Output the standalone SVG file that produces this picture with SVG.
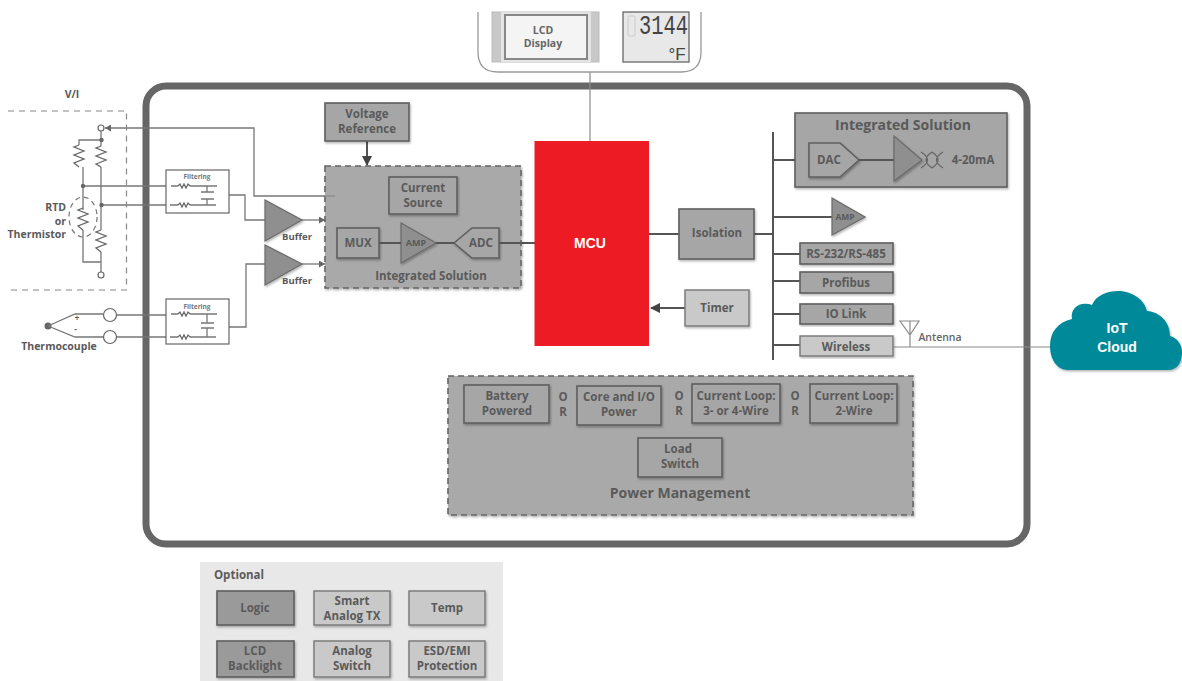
<svg xmlns="http://www.w3.org/2000/svg" width="1182" height="681" viewBox="0 0 1182 681">
<style>
text{font-family:"Open Sans","Noto Sans","Liberation Sans",sans-serif;font-weight:700;fill:#5a5a5a;font-size:11.5px;text-anchor:middle}
.box{fill:#a6a6a6;stroke:#5f5f5f;stroke-width:1.6;filter:url(#sh)}
.lt{fill:#c9c9c9;stroke:#777;stroke-width:1.4;filter:url(#sh)}
.dk{fill:#9a9a9a;stroke:#5f5f5f;stroke-width:1.6;filter:url(#sh)}
.dash{fill:#a9a9a9;stroke:#666;stroke-width:1.6;stroke-dasharray:6 4;filter:url(#sh)}
.tri{fill:#8f8f8f;stroke:#6a6a6a;stroke-width:1.2;filter:url(#sh)}
.w{fill:#fff;stroke:#666;stroke-width:1.2}
.l{fill:none;stroke:#777;stroke-width:1.3}
.t{fill:none;stroke:#555;stroke-width:2}
.thin{fill:none;stroke:#8a8a8a;stroke-width:1.2}
.res{fill:none;stroke:#666;stroke-width:1.3}
.dot{fill:#666}
.sm{font-size:10.5px}
.fl{font-size:6.5px;fill:#777}
</style>
<defs>
<filter id="sh" x="-10%" y="-10%" width="125%" height="125%"><feDropShadow dx="1" dy="1.5" stdDeviation="1.2" flood-color="#000" flood-opacity=".3"/></filter>
<marker id="ah" markerUnits="userSpaceOnUse" markerWidth="6" markerHeight="7" refX="6" refY="3.5" orient="auto"><path d="M0 0L6 3.5L0 7Z" fill="#666"/></marker>
<marker id="ahd" markerWidth="5" markerHeight="5" refX="4.5" refY="2.500" orient="auto"><path d="M0 0L5 2.500L0 5Z" fill="#444"/></marker>
</defs>

<g id="frame"><rect x="146" y="86" width="881" height="458" rx="20" fill="#fff" stroke="#666" stroke-width="7"/></g>

<g id="connectors">
<path class="thin" d="M590 72V141"/>
<path class="l" d="M335 196H254V128H105" marker-end="url(#ah)"/>
<path class="l" d="M83 186H166M101 205H166M116 315H166M116 337H166"/>
<path class="l" d="M229 195H245V220H265M229 327H246V264H265"/>
<path class="l" d="M302 220H325" marker-end="url(#ah)"/>
<path class="l" d="M302 264H325" marker-end="url(#ah)"/>
<path class="t" d="M367 141V165" marker-end="url(#ahd)"/>
<path class="t" d="M499 243H535M649 234H679M754 234H773"/>
<path class="t" d="M685 308H651" marker-end="url(#ahd)"/>
<path class="t" d="M773 132V360"/>
<path class="t" d="M773 160H809M773 217H832M773 254H800M773 281H800M773 314H800M773 345H800"/>
<path class="thin" d="M893 347H1050"/>
</g>

<g id="vi-sensor">
<text x="72" y="98" class="sm">V/I</text>
<path d="M8 111H126.500V290H8" fill="none" stroke="#888" stroke-width="1.200" stroke-dasharray="6 5"/>
<path class="l" d="M79 145V140H101M83 167V210M83 230V262H101M101 131V146M101 167V230M101 252V272"/>
<path class="res" d="M79 145l-5 2 10 4-10 4 10 4-10 4 5 4"/>
<path class="res" d="M101 146l-5 2 10 4-10 4 10 4-10 4 5 3"/>
<path class="res" d="M83 208l-5 2 10 4-10 4 10 4-10 4 5 4"/>
<path class="res" d="M101 230l-5 2 10 4-10 4 10 4-10 4 5 4"/>
<ellipse cx="83" cy="217" rx="14" ry="20" fill="none" stroke="#777" stroke-width="1.200" stroke-dasharray="5 4"/>
<circle class="w" cx="101" cy="128" r="3"/><circle class="w" cx="101" cy="275" r="3"/>
<circle class="dot" cx="101.500" cy="140" r="2.200"/><circle class="dot" cx="83" cy="186" r="2.200"/><circle class="dot" cx="101.500" cy="205" r="2.200"/>
<text x="66" y="211" class="sm" style="text-anchor:end">RTD</text>
<text x="66" y="225" class="sm" style="text-anchor:end">or</text>
<text x="66" y="238" class="sm" style="text-anchor:end">Thermistor</text>
</g>

<g id="thermocouple">
<circle class="dot" cx="48" cy="326" r="3.500"/>
<path class="l" d="M48 326L75 314H103M48 326L75 337H103"/>
<circle class="w" cx="110" cy="315" r="6.500"/><circle class="w" cx="110" cy="337" r="6.500"/>
<text x="77" y="321" style="font-size:8px">+</text><text x="75.500" y="332" style="font-size:8px">-</text>
<text x="59" y="350" class="sm">Thermocouple</text>
</g>

<g id="filter-1">
<rect class="w" x="166" y="170" width="63" height="43"/>
<text x="197" y="179" class="fl">Filtering</text>
<path class="l" d="M171 186H178M190 186H217M170 205H178M190 205H216M207 186V192M207 199V205M201 192H214M201 199H214"/>
<path class="res" d="M178 186l2-2 2 4 2-4 2 4 2-4 2 2M178 205l2-2 2 4 2-4 2 4 2-4 2 2"/>
</g>
<g id="filter-2">
<rect class="w" x="166" y="299" width="63" height="45"/>
<text x="197" y="309" class="fl">Filtering</text>
<path class="l" d="M171 314H178M190 314H217M170 337H178M190 337H216M207 314V323M207 328V337M201 323H214M201 328H214"/>
<path class="res" d="M178 314l2-2 2 4 2-4 2 4 2-4 2 2M178 337l2-2 2 4 2-4 2 4 2-4 2 2"/>
</g>

<g id="buffer-1"><polygon class="tri" points="265,200 265,241 302,220"/><text x="297" y="240" style="font-size:9.500px">Buffer</text></g>
<g id="buffer-2"><polygon class="tri" points="265,245 265,285 302,264"/><text x="297" y="284" style="font-size:9.500px">Buffer</text></g>

<g id="voltage-reference"><rect class="box" x="325" y="103" width="84" height="38"/><text x="367" y="118">Voltage</text><text x="367" y="133">Reference</text></g>

<g id="integrated-left">
<rect class="dash" x="325" y="166" width="196" height="122"/>
<path class="thin" d="M325 196H335"/>
<rect class="box" x="389" y="177" width="68" height="37"/><text x="423" y="192">Current</text><text x="423" y="207">Source</text>
<rect class="box" x="337" y="228" width="42" height="30"/><text x="358" y="247">MUX</text>
<polygon class="tri" points="401,223 401,263 436,243"/><text x="416" y="246" style="font-size:9px">AMP</text>
<polygon class="box" points="454,243 472,228 499,228 499,258 472,258"/><text x="481" y="247">ADC</text>
<path class="t" d="M379 243H401M436 243H454M499 243H521"/>
<text x="431" y="280">Integrated Solution</text>
</g>

<g id="mcu"><rect x="534.500" y="141" width="114.500" height="205" fill="#ed1c24"/><text x="590" y="248" style="fill:#fff;font-size:14px;font-family:'Liberation Sans',sans-serif">MCU</text></g>
<g id="isolation"><rect class="box" x="679" y="209" width="75" height="50"/><text x="717" y="237">Isolation</text></g>
<g id="timer"><rect class="lt" x="685" y="290" width="64" height="36"/><text x="717" y="312">Timer</text></g>

<g id="integrated-right">
<rect class="box" x="795" y="113" width="212" height="74"/>
<text x="903" y="130" style="font-size:14px">Integrated Solution</text>
<polygon class="box" points="809,143 840,143 859,160 840,177 809,177"/><text x="829" y="164">DAC</text>
<path class="t" d="M859 160H894"/>
<polygon class="tri" points="894,136 894,181 922,160"/>
<path d="M921 152Q934 160 921 168M932 152Q920 160 932 168M932 152Q944 160 932 168M943 152Q930 160 943 168" fill="none" stroke="#666" stroke-width="1.200"/>
<text x="973" y="164">4-20mA</text>
</g>
<g id="amp"><polygon class="tri" points="832,198 832,235 865,217"/><text x="845" y="220" style="font-size:8.500px">AMP</text></g>
<g id="rs232"><rect class="box" x="800" y="243" width="93" height="21"/><text x="846" y="258">RS-232/RS-485</text></g>
<g id="profibus"><rect class="box" x="800" y="272" width="93" height="21"/><text x="846" y="287">Profibus</text></g>
<g id="io-link"><rect class="box" x="800" y="304" width="93" height="20"/><text x="846" y="318">IO Link</text></g>
<g id="wireless"><rect class="lt" x="800" y="336" width="93" height="20"/><text x="846" y="351">Wireless</text></g>
<g id="antenna"><path class="thin" d="M900 321H919L910 335ZM910 321V347"/><text x="940" y="341" class="sm" style="font-weight:600;fill:#666">Antenna</text></g>
<g id="iot-cloud"><path d="M1068 370C1056 370 1050 358 1050 346C1050 332 1058 322 1072 319C1070 308 1080 301 1092 305C1096 295 1108 291 1118 291C1130 291 1144 298 1147 311C1160 312 1170 322 1170 336C1178 338 1182 346 1182 352C1182 362 1178 370 1168 370Z" fill="#008a99" filter="url(#sh)"/><text x="1117" y="333" style="fill:#fff;font-size:14px;font-family:'Liberation Sans',sans-serif">IoT</text><text x="1117" y="352" style="fill:#fff;font-size:14px;font-family:'Liberation Sans',sans-serif">Cloud</text></g>

<g id="lcd">
<path d="M478 12V52Q478 72 498 72H681Q701 72 701 52V12" fill="#fff" stroke="#999" stroke-width="1.300"/>
<rect x="492" y="12" width="107" height="50" fill="#c8c8c8" stroke="#bbb"/>
<rect x="501" y="12" width="90" height="50" fill="#e4e4e4"/>
<rect x="505" y="15" width="82" height="44" fill="#f4f4f4" stroke="#888" stroke-width="2"/>
<text x="543" y="34" style="font-size:10.500px;fill:#666">LCD</text><text x="543" y="47" style="font-size:10.500px;fill:#666">Display</text>
<rect x="623" y="12" width="66" height="50" fill="#e8e8e8" stroke="#666" stroke-width="1.300"/>
<rect x="628" y="16" width="7" height="20" rx="2" fill="none" stroke="#d4d4d4" stroke-width="1.500"/>
<text x="639" y="34" style="font-family:'Liberation Mono',monospace;font-weight:400;font-size:28px;fill:#444;text-anchor:start" textLength="49" lengthAdjust="spacingAndGlyphs">3144</text>
<text x="677" y="60" style="font-family:'Liberation Sans',sans-serif;font-weight:400;font-size:17px;fill:#444">°F</text>
</g>

<g id="power-management">
<rect class="dash" x="448" y="376" width="465" height="139"/>
<rect class="box" x="464" y="385" width="85" height="38"/><text x="507" y="400">Battery</text><text x="507" y="415">Powered</text>
<rect class="box" x="577" y="386" width="84" height="39"/><text x="619" y="401">Core and I/O</text><text x="619" y="416">Power</text>
<rect class="box" x="692" y="384" width="88" height="39"/><text x="736" y="400">Current Loop:</text><text x="736" y="415">3- or 4-Wire</text>
<rect class="box" x="810" y="384" width="87" height="39"/><text x="854" y="400">Current Loop:</text><text x="854" y="415">2-Wire</text>
<rect class="box" x="638" y="438" width="84" height="39"/><text x="678" y="453">Load</text><text x="680" y="468">Switch</text>
<text x="563" y="401">O</text><text x="563" y="416">R</text>
<text x="679" y="400">O</text><text x="679" y="415">R</text>
<text x="795" y="400">O</text><text x="795" y="415">R</text>
<text x="680" y="498" style="font-size:14px">Power Management</text>
</g>

<g id="optional">
<rect x="200" y="562" width="303" height="119" fill="#e8e8e8"/>
<text x="239" y="579">Optional</text>
<g id="logic"><rect class="dk" x="217" y="591" width="77" height="34"/><text x="255" y="612">Logic</text></g>
<g id="smart-analog"><rect class="lt" x="314" y="591" width="76" height="34"/><text x="352" y="605">Smart</text><text x="352" y="620">Analog TX</text></g>
<g id="temp"><rect class="lt" x="409" y="591" width="76" height="34"/><text x="447" y="612">Temp</text></g>
<g id="lcd-backlight"><rect class="dk" x="217" y="641" width="77" height="36"/><text x="255" y="655">LCD</text><text x="255" y="670">Backlight</text></g>
<g id="analog-switch"><rect class="lt" x="314" y="641" width="76" height="36"/><text x="352" y="655">Analog</text><text x="352" y="670">Switch</text></g>
<g id="esd-emi"><rect class="lt" x="409" y="641" width="76" height="36"/><text x="447" y="655">ESD/EMI</text><text x="447" y="670">Protection</text></g>
</g>
</svg>
